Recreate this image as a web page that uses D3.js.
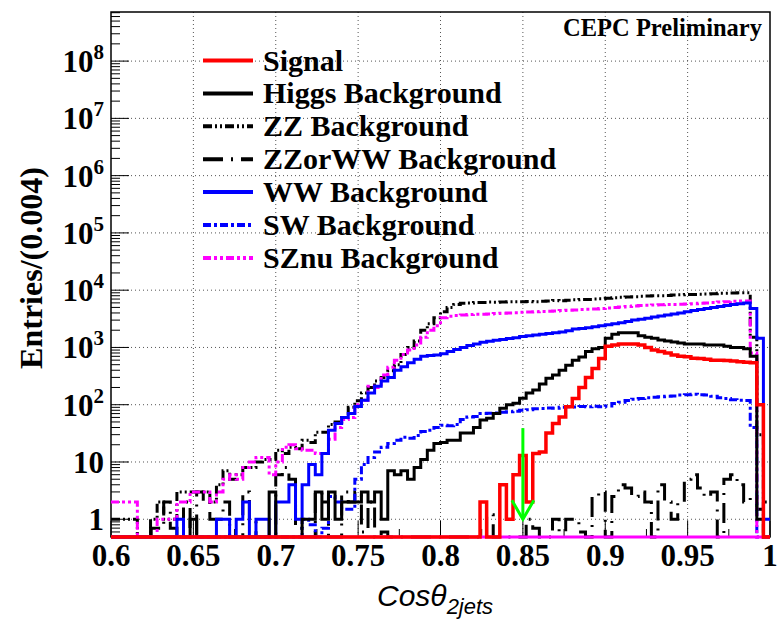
<!DOCTYPE html>
<html>
<head>
<meta charset="utf-8">
<script src="https://cdn.jsdelivr.net/npm/d3@7"></script>
<style>
  html, body { margin: 0; padding: 0; background: #fff; }
  svg text { font-family: "Liberation Serif", "Times New Roman", serif; font-weight: bold; }
</style>
</head>
<body>
<div id="chart"></div>
<script>
// Histograms of Cos(theta_2jets), 100 bins of 0.004 between 0.6 and 1

var xMin = 0.6, xMax = 1.0, binWidth = 0.004;

var signalCounts = [
  0, 0, 0, 0, 0, 0, 0, 0, 0, 0,
  0, 0, 0, 0, 0, 0, 0, 0, 0, 0,
  0, 0, 0, 0, 0, 0, 0, 0, 0, 0,
  0, 0, 0, 0, 0, 0, 0, 0, 0, 0,
  0, 0, 0, 0, 0, 0, 0, 0, 0, 0,
  0, 0, 0, 0, 0, 0, 2, 0, 0, 4,
  1, 6, 13, 2, 14, 15, 32, 47, 61, 92,
  128, 200, 300, 430, 640, 1050, 1100, 1150, 1150, 1150,
  1100, 1000, 900, 850, 800, 740, 700, 690, 650, 640,
  620, 600, 600, 590, 580, 560, 550, 540, 100, 0
];

var higgsCounts = [
  0, 0, 0, 0, 0, 0, 0, 0, 0, 0,
  0, 0, 1, 0, 0, 0, 0, 0, 0, 0,
  0, 0, 0, 0, 3, 0, 0, 0, 0, 1,
  1, 3, 1, 3, 1, 2, 2, 2, 3, 2,
  3, 1, 7, 6, 7, 5, 8, 11, 16, 21,
  22, 24, 24, 32, 32, 40, 54, 58, 70, 87,
  100, 106, 130, 160, 180, 230, 290, 330, 400, 490,
  600, 680, 850, 950, 1000, 1450, 1700, 1800, 1800, 1800,
  1600, 1500, 1450, 1350, 1300, 1250, 1200, 1150, 1150, 1150,
  1100, 1100, 1100, 1050, 1000, 1000, 950, 700, 1, 0
];

var zzCounts = [
  1, 1, 1, 1, 0, 0, 1, 2, 1, 1,
  3, 3, 3, 3, 3, 2, 4, 7, 5, 6,
  8, 8, 10, 11, 11, 16, 14, 18, 17, 24,
  22, 33, 33, 45, 50, 60, 90, 117, 160, 200,
  260, 300, 390, 500, 750, 1000, 1300, 2000, 2600, 3300,
  4200, 5000, 5600, 5900, 6000, 6100, 6100, 6200, 6150, 6200,
  6250, 6300, 6250, 6350, 6300, 6400, 6500, 6600, 6550, 6700,
  6800, 6850, 6900, 7000, 7100, 7200, 7400, 7500, 7600, 7700,
  7800, 7900, 8000, 8000, 8100, 8200, 8300, 8400, 8400, 8500,
  8600, 8700, 8800, 8800, 8900, 9000, 9000, 1500, 30, 0
];

var zzOrWwCounts = [
  0, 0, 0, 0, 0, 0, 0.7, 0.7, 2, 0.7,
  0, 2, 0, 3, 2, 1, 1, 2, 0, 0,
  3, 1, 0, 0, 0, 6, 8, 5, 0.7, 0,
  0, 3, 2, 0, 0, 3, 2, 3, 0.6, 2,
  0, 0.6, 0, 0, 0, 0, 0, 0, 0, 0,
  0, 0, 0, 0, 0, 0, 0, 1.2, 0, 0,
  0, 0, 0, 1, 0.7, 0, 0, 1, 0.6, 1,
  1, 0.6, 0, 2.5, 3, 0, 2.5, 4, 3.5, 2.5,
  3, 2, 0, 4, 2, 1, 2, 5, 6, 3.5,
  2.5, 3, 0, 5, 6, 4, 2, 2.5, 1.5, 2
];

var wwCounts = [
  0, 0, 0, 0, 0, 0, 0, 0, 0, 0,
  1, 0, 0, 0, 0, 0, 1, 1, 0, 1,
  2, 0, 1, 1, 0, 2, 2, 4, 1, 4,
  9, 6, 14, 36, 47, 60, 70, 93, 120, 160,
  210, 260, 300, 400, 460, 540, 620, 700, 720, 740,
  780, 850, 920, 1000, 1080, 1150, 1230, 1280, 1330, 1380,
  1430, 1480, 1550, 1600, 1650, 1700, 1750, 1800, 1870, 1950,
  2100, 2150, 2200, 2300, 2400, 2500, 2600, 2700, 2850, 3000,
  3100, 3250, 3400, 3550, 3700, 3850, 4000, 4200, 4400, 4600,
  4800, 5000, 5200, 5400, 5600, 5800, 6000, 4800, 1450, 1
];

var swCounts = [
  0, 0, 0, 0, 0, 0, 0, 0, 0, 0,
  0, 0, 0, 0, 0, 0, 0, 0, 0, 0,
  0, 0, 0, 0, 0, 0, 0, 0, 0, 1,
  0.8, 0, 0.7, 2.5, 2, 1.5, 1.5, 5, 9, 12,
  15, 18, 21, 24, 27, 26, 29, 34, 36, 40,
  44, 43, 45, 55, 61, 62, 70, 71, 72, 74,
  75, 77, 80, 82, 85, 86, 88, 87, 90, 92,
  91, 93, 92, 94, 92, 95, 105, 110, 118, 125,
  128, 132, 135, 138, 140, 142, 148, 150, 152, 150,
  148, 140, 132, 128, 122, 120, 118, 40, 0, 0
];

var sznuCounts = [
  2, 2, 2, 2, 0, 0, 0, 1, 1, 1,
  2, 2, 3, 3, 3, 2, 3, 5, 6, 5,
  8, 10, 12, 12, 6, 10, 18, 20, 17, 16,
  16, 14, 14, 25, 40, 55, 60, 100, 120, 210,
  200, 330, 450, 600, 750, 900, 1100, 1500, 2000, 2400,
  3300, 3500, 3600, 3700, 3750, 3800, 3800, 3850, 3900, 3950,
  4000, 4050, 4100, 4150, 4200, 4250, 4300, 4350, 4400, 4450,
  4500, 4600, 4650, 4700, 4800, 4900, 5000, 5100, 5200, 5300,
  5400, 5450, 5500, 5550, 5600, 5650, 5700, 5750, 5800, 5900,
  6000, 6100, 6200, 6300, 6400, 6500, 6500, 800, 0, 0
];

// an empty (magenta, solid) histogram that only shows on the floor
var emptyCounts = [
  0, 0, 0, 0, 0, 0, 0, 0, 0, 0,
  0, 0, 0, 0, 0, 0, 0, 0, 0, 0,
  0, 0, 0, 0, 0, 0, 0, 0, 0, 0,
  0, 0, 0, 0, 0, 0, 0, 0, 0, 0,
  0, 0, 0, 0, 0, 0, 0, 0, 0, 0,
  0, 0, 0, 0, 0, 0, 0, 0, 0, 0,
  0, 0, 0, 0, 0, 0, 0, 0, 0, 0,
  0, 0, 0, 0, 0, 0, 0, 0, 0, 0,
  0, 0, 0, 0, 0, 0, 0, 0, 0, 0,
  0, 0, 0, 0, 0, 0, 0, 0, 0, 0
];

var legendLabels = ["Signal", "Higgs Background", "ZZ Background", "ZZorWW Background",
                    "WW Background", "SW Background", "SZnu Background"];

var xTickValues = [0.6, 0.65, 0.7, 0.75, 0.8, 0.85, 0.9, 0.95, 1.0];
var xTickLabels = ["0.6", "0.65", "0.7", "0.75", "0.8", "0.85", "0.9", "0.95", "1"];
var yTickValues = [1, 10, 1e2, 1e3, 1e4, 1e5, 1e6, 1e7, 1e8];

// cut arrow at Cos(theta) = 0.85
var cutValue = 0.85, cutArrowTop = 39, cutArrowBottom = 1;

// ---- styles (kept apart from the data) ----
var seriesStyle = {
  signal: { color: "#ff0000", dash: null },
  higgs:  { color: "#000000", dash: null },
  zz:     { color: "#000000", dash: "9,3,2,3,2,3" },
  zzorww: { color: "#000000", dash: "20,8,2,8" },
  ww:     { color: "#0000ff", dash: null },
  sw:     { color: "#0000ff", dash: "8,3,3,3" },
  sznu:   { color: "#ff00ff", dash: "8,3,3,3,3,3" },
  empty:  { color: "#ff00ff", dash: null }
};
var legendKeys = ["signal", "higgs", "zz", "zzorww", "ww", "sw", "sznu"];

var width = 779, height = 624;
var frame = { left: 111, right: 770, top: 12, bottom: 537 };

var svg = d3.select("#chart").append("svg")
    .attr("width", width)
    .attr("height", height);

var x = d3.scaleLinear().domain([xMin, xMax]).range([frame.left, frame.right]);
var y = d3.scaleLog().domain([0.49, 7.2e8]).range([frame.bottom, frame.top]);
var yFloor = y.domain()[0];

var edges = d3.range(signalCounts.length + 1).map(function(i) { return xMin + i * binWidth; });

// Grid
var grid = svg.append("g")
    .attr("stroke", "#555")
    .attr("stroke-width", 1)
    .attr("stroke-dasharray", "1,3");

grid.selectAll(".vgrid").data(xTickValues.slice(1, -1)).enter()
  .append("line")
    .attr("x1", function(d) { return x(d); })
    .attr("x2", function(d) { return x(d); })
    .attr("y1", frame.top)
    .attr("y2", frame.bottom);

grid.selectAll(".hgrid").data(yTickValues).enter()
  .append("line")
    .attr("x1", frame.left)
    .attr("x2", frame.right)
    .attr("y1", function(d) { return y(d); })
    .attr("y2", function(d) { return y(d); });

// Ticks
var ticks = svg.append("g").attr("stroke", "#000").attr("stroke-width", 1);

var xMinor = d3.range(0.625, 1.0, 0.05);
ticks.selectAll(".xmaj").data(xTickValues).enter().append("line")
    .attr("x1", function(d) { return x(d); }).attr("x2", function(d) { return x(d); })
    .attr("y1", frame.bottom).attr("y2", frame.bottom - 16);
ticks.selectAll(".xmin").data(xMinor).enter().append("line")
    .attr("x1", function(d) { return x(d); }).attr("x2", function(d) { return x(d); })
    .attr("y1", frame.bottom).attr("y2", frame.bottom - 8);

var yMinor = [];
for (var e = -1; e <= 8; e++) {
  for (var k = 2; k <= 9; k++) {
    var v = k * Math.pow(10, e);
    if (v > yFloor && v < y.domain()[1]) yMinor.push(v);
  }
}
ticks.selectAll(".ymaj").data(yTickValues).enter().append("line")
    .attr("x1", frame.left).attr("x2", frame.left + 18)
    .attr("y1", function(d) { return y(d); }).attr("y2", function(d) { return y(d); });
ticks.selectAll(".ymin").data(yMinor).enter().append("line")
    .attr("x1", frame.left).attr("x2", frame.left + 9)
    .attr("y1", function(d) { return y(d); }).attr("y2", function(d) { return y(d); });

// Frame
svg.append("rect")
    .attr("x", frame.left)
    .attr("y", frame.top)
    .attr("width", frame.right - frame.left)
    .attr("height", frame.bottom - frame.top)
    .attr("fill", "none")
    .attr("stroke", "#000")
    .attr("stroke-width", 1.5);

// Histogram outline as a step line; empty bins sit on the floor
var stepLine = d3.line()
    .x(function(d) { return x(d[0]); })
    .y(function(d) { return y(Math.max(d[1], yFloor)); })
    .curve(d3.curveStepAfter);

function histPoints(counts) {
  var pts = counts.map(function(c, i) { return [edges[i], c]; });
  pts.push([edges[counts.length], counts[counts.length - 1]]);
  return pts;
}

var drawOrder = [
  ["zzorww", zzOrWwCounts],
  ["sw", swCounts],
  ["zz", zzCounts],
  ["sznu", sznuCounts],
  ["ww", wwCounts],
  ["higgs", higgsCounts],
  ["empty", emptyCounts],
  ["signal", signalCounts]
];

svg.append("g").selectAll("path").data(drawOrder).enter()
  .append("path")
    .attr("d", function(d) { return stepLine(histPoints(d[1])); })
    .attr("fill", "none")
    .attr("stroke", function(d) { return seriesStyle[d[0]].color; })
    .attr("stroke-width", function(d) { return d[0] === "signal" ? 3.5 : 3; })
    .attr("stroke-dasharray", function(d) { return seriesStyle[d[0]].dash; });

// Cut arrow
var arrow = svg.append("g")
    .attr("stroke", "#00ff00")
    .attr("stroke-width", 3)
    .attr("fill", "none");
arrow.append("line")
    .attr("x1", x(cutValue)).attr("x2", x(cutValue))
    .attr("y1", y(cutArrowTop)).attr("y2", y(cutArrowBottom));
arrow.append("polyline")
    .attr("points", [
      [x(cutValue) - 11, y(cutArrowBottom) - 19],
      [x(cutValue), y(cutArrowBottom)],
      [x(cutValue) + 11, y(cutArrowBottom) - 19]
    ].map(function(p) { return p.join(","); }).join(" "));

// Axis labels
svg.append("g").selectAll("text").data(xTickValues).enter()
  .append("text")
    .attr("x", function(d) { return x(d); })
    .attr("y", 566)
    .attr("text-anchor", "middle")
    .style("font-size", "31px")
    .text(function(d, i) { return xTickLabels[i]; });

var yLabels = svg.append("g").selectAll("text").data(yTickValues).enter()
  .append("text")
    .attr("x", 104)
    .attr("y", function(d) { return y(d) + 11; })
    .attr("text-anchor", "end")
    .style("font-size", "31px");

yLabels.each(function(d) {
  var t = d3.select(this);
  var p = Math.round(Math.log10(d));
  if (p < 2) {
    t.text(String(d));
  } else {
    t.append("tspan").text("10");
    t.append("tspan").attr("dy", -13).style("font-size", "21px").text(String(p));
  }
});

svg.append("text")
    .attr("transform", "translate(42,268) rotate(-90)")
    .attr("text-anchor", "middle")
    .style("font-size", "32px")
    .text("Entries/(0.004)");

var xTitle = svg.append("text")
    .attr("x", 377)
    .attr("y", 606)
    .style("font-family", "'Liberation Sans', Arial, sans-serif")
    .style("font-weight", "normal")
    .style("font-style", "italic")
    .style("font-size", "30px");
xTitle.append("tspan").text("Cosθ");
xTitle.append("tspan").attr("dy", 8).style("font-size", "22px").text("2jets");

svg.append("text")
    .attr("x", 762)
    .attr("y", 36)
    .attr("text-anchor", "end")
    .style("font-size", "24.5px")
    .text("CEPC Preliminary");

// Legend
var legend = svg.append("g").selectAll("g").data(legendKeys).enter()
  .append("g")
    .attr("transform", function(d, i) { return "translate(0," + (60.5 + i * 32.9) + ")"; });

legend.append("line")
    .attr("x1", 203).attr("x2", 253)
    .attr("y1", 0).attr("y2", 0)
    .attr("stroke", function(d) { return seriesStyle[d].color; })
    .attr("stroke-width", 4)
    .attr("stroke-dasharray", function(d) { return seriesStyle[d].dash; });

legend.append("text")
    .attr("x", 263)
    .attr("y", 10)
    .style("font-size", "30px")
    .text(function(d, i) { return legendLabels[i]; });
</script>
</body>
</html>
